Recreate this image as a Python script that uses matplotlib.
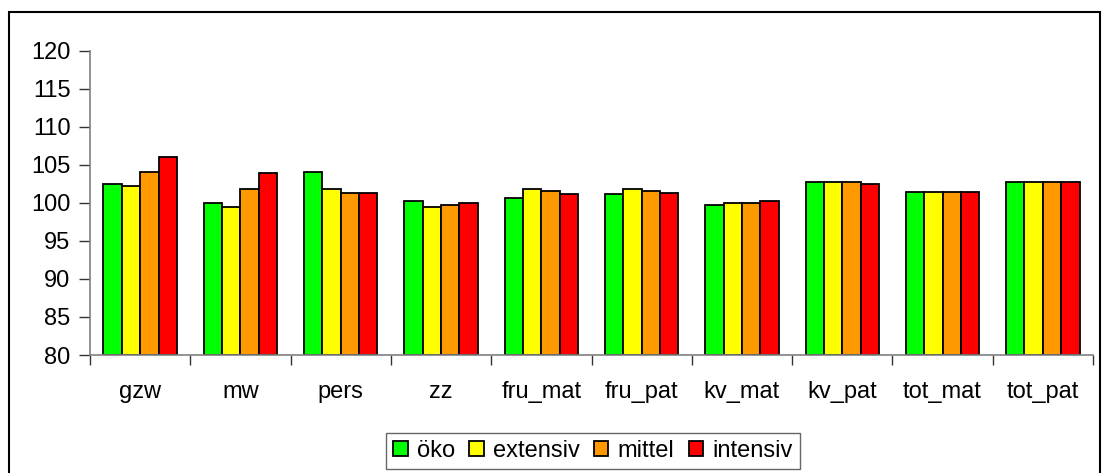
import numpy as np
import matplotlib
matplotlib.use("Agg")
import matplotlib.pyplot as plt
from matplotlib.patches import Rectangle

plt.rcParams['font.family'] = ['Liberation Sans', 'DejaVu Sans']

categories = ["gzw", "mw", "pers", "zz", "fru_mat", "fru_pat", "kv_mat", "kv_pat", "tot_mat", "tot_pat"]
series = ["öko", "extensiv", "mittel", "intensiv"]
oeko     = [102.5, 100.0, 104.1, 100.2, 100.7, 101.1, 99.75, 102.7, 101.4, 102.7]
extensiv = [102.2,  99.5, 101.8,  99.5, 101.8, 101.8, 100.0, 102.7, 101.4, 102.7]
mittel   = [104.1, 101.8, 101.3,  99.7, 101.6, 101.6, 100.0, 102.7, 101.4, 102.7]
intensiv = [106.0, 103.9, 101.3, 100.0, 101.1, 101.3, 100.2, 102.5, 101.4, 102.7]
colors = ["#00FF00", "#FFFF00", "#FF9900", "#FF0000"]

W, H = 1102, 473
FS = 17
fig = plt.figure(figsize=(W / 100, H / 100), dpi=100)
ax = fig.add_axes([90 / W, (H - 355) / H, (1093 - 90) / W, (355 - 50.7) / H])

x = np.arange(len(categories))
bw = 0.183
for i, (vals, c, name) in enumerate(zip([oeko, extensiv, mittel, intensiv], colors, series)):
    ax.bar(x + (i - 1.5) * bw, np.array(vals) - 80, bottom=80, width=bw, color=c,
           edgecolor="black", linewidth=1.3, label=name)

ax.set_xlim(-0.5, len(categories) - 0.5)
ax.set_ylim(80, 120)
ax.set_yticks(np.arange(80, 121, 5))
ax.set_xticks(x)
ax.set_xticklabels(categories)
ax.set_xticks(np.arange(-0.5, len(categories)), minor=True)
ax.tick_params(axis="x", which="major", length=0, pad=19, labelsize=FS)
ax.tick_params(axis="x", which="minor", length=7, width=1, color="#333333", direction="out")
ax.tick_params(axis="y", length=8, width=1, color="#333333", labelsize=FS, pad=6)
for s in ["top", "right"]:
    ax.spines[s].set_visible(False)
for s in ["left", "bottom"]:
    ax.spines[s].set_color("#808080")
    ax.spines[s].set_linewidth(1.2)

leg = fig.legend(loc="center", bbox_to_anchor=(593 / W, (H - 451) / H), ncol=4,
                 fontsize=FS, frameon=True, fancybox=False, handlelength=0.6,
                 handleheight=0.6, handletextpad=0.4, columnspacing=0.6,
                 borderpad=0.3, borderaxespad=0, edgecolor="#404040")
leg.get_frame().set_linewidth(1.0)
for h in leg.legend_handles:
    h.set_linewidth(1.3)

fig.patches.append(Rectangle((9 / W, -0.1), (1100 - 9) / W, (H - 12) / H + 0.1,
                             transform=fig.transFigure, fill=False,
                             edgecolor="black", linewidth=1.5))

fig.savefig("out.png", dpi=100)
